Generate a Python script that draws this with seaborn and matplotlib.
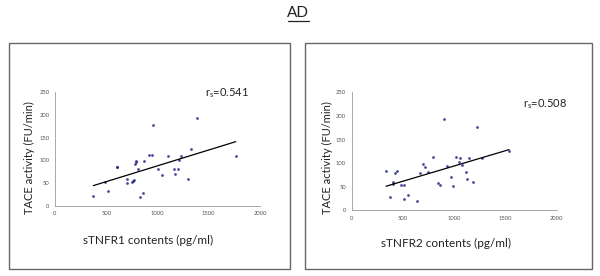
import matplotlib
matplotlib.use("Agg")
import matplotlib.pyplot as plt
import seaborn as sns
import pandas as pd
from matplotlib.patches import Rectangle
from matplotlib.lines import Line2D

# data
tnfr1 = [374, 488, 514, 602, 608, 699, 699, 748, 764, 774, 784, 787, 793, 813, 829, 855,
         868, 920, 950, 953, 1008, 1047, 1106, 1158, 1171, 1200, 1213, 1233, 1294, 1324,
         1382, 1763]
tace1 = [22, 53, 32, 85, 85, 59, 50, 53, 55, 57, 92, 96, 99, 82, 20, 28,
         99, 112, 112, 177, 80, 67, 110, 80, 70, 82, 101, 110, 58, 125,
         194, 110]

tnfr2 = [335, 377, 400, 407, 420, 442, 478, 507, 511, 550, 641, 667, 693, 715, 748, 793,
         846, 865, 898, 927, 969, 989, 1018, 1044, 1057, 1080, 1115, 1122, 1141, 1187,
         1220, 1268, 1535]
tace2 = [83, 28, 59, 56, 80, 84, 53, 53, 23, 33, 20, 80, 99, 92, 81, 112,
         57, 54, 194, 94, 71, 51, 112, 102, 111, 97, 82, 67, 110, 59,
         177, 111, 125]

rs_labels = ["0.541", "0.508"]
xlabels = ["sTNFR1 contents (pg/ml)", "sTNFR2 contents (pg/ml)"]
ylabel = "TACE activity (FU/min)"
xticks = [0, 500, 1000, 1500, 2000]
yticks = [0, 50, 100, 150, 200, 250]

sns.set_style("white")
plt.rcParams['font.family'] = ['Lato', 'DejaVu Sans']
plt.rcParams['mathtext.fontset'] = 'custom'
plt.rcParams['mathtext.rm'] = 'Lato'

fig = plt.figure(figsize=(6, 2.76), dpi=100)

# panel frames
for x0, w in [(9, 281), (305, 287)]:
    fig.patches.append(Rectangle((x0 / 600, 1 - 269 / 276), w / 600, 226 / 276,
                                 transform=fig.transFigure, fill=False,
                                 ec="#666666", lw=1))

fig.text(298 / 600, 1 - 13 / 276, "AD", ha="center", va="center",
         fontsize=11, color="#222222")
fig.lines.append(Line2D([288 / 600, 309 / 600], [1 - 21 / 276, 1 - 21 / 276],
                        transform=fig.transFigure, color="#222222", lw=0.9))

ax1 = fig.add_axes([55 / 600, 1 - 205.7 / 276, 205 / 600, 113.4 / 276])
ax2 = fig.add_axes([351.7 / 600, 1 - 210.3 / 276, 205 / 600, 118 / 276])

df1 = pd.DataFrame({"x": tnfr1, "y": tace1})
df2 = pd.DataFrame({"x": tnfr2, "y": tace2})

panels = [(ax1, df1, (1463, 248), (0.454, -0.26), (-0.098, 0.425)),
          (ax2, df2, (1671, 225), (0.462, -0.237), (-0.093, 0.443))]

for i, (ax, df, rs_pos, xl_pos, yl_pos) in enumerate(panels):
    sns.regplot(data=df, x="x", y="y", ax=ax, ci=None,
                scatter_kws=dict(s=4, color="#1c1c80", linewidths=0),
                line_kws=dict(color="black", lw=0.9))
    ax.set_xlim(0, 2000)
    ax.set_ylim(0, 250)
    ax.set_xticks(xticks)
    ax.set_yticks(yticks)
    ax.tick_params(labelsize=4.2, colors="#555555", length=2, width=0.5, pad=2)
    for s in ["top", "right"]:
        ax.spines[s].set_visible(False)
    for s in ["left", "bottom"]:
        ax.spines[s].set_color("#999999")
        ax.spines[s].set_linewidth(0.6)
    ax.set_xlabel(xlabels[i], fontsize=8.5, color="#222222")
    ax.set_ylabel(ylabel, fontsize=8, color="#222222")
    ax.xaxis.set_label_coords(*xl_pos)
    ax.yaxis.set_label_coords(*yl_pos)
    ax.text(rs_pos[0], rs_pos[1], r"r$_\mathrm{s}$=" + rs_labels[i], fontsize=8,
            color="#222222", ha="left", va="center", clip_on=False)
    ax.set_facecolor("none")

fig.savefig("out.png", dpi=100)
